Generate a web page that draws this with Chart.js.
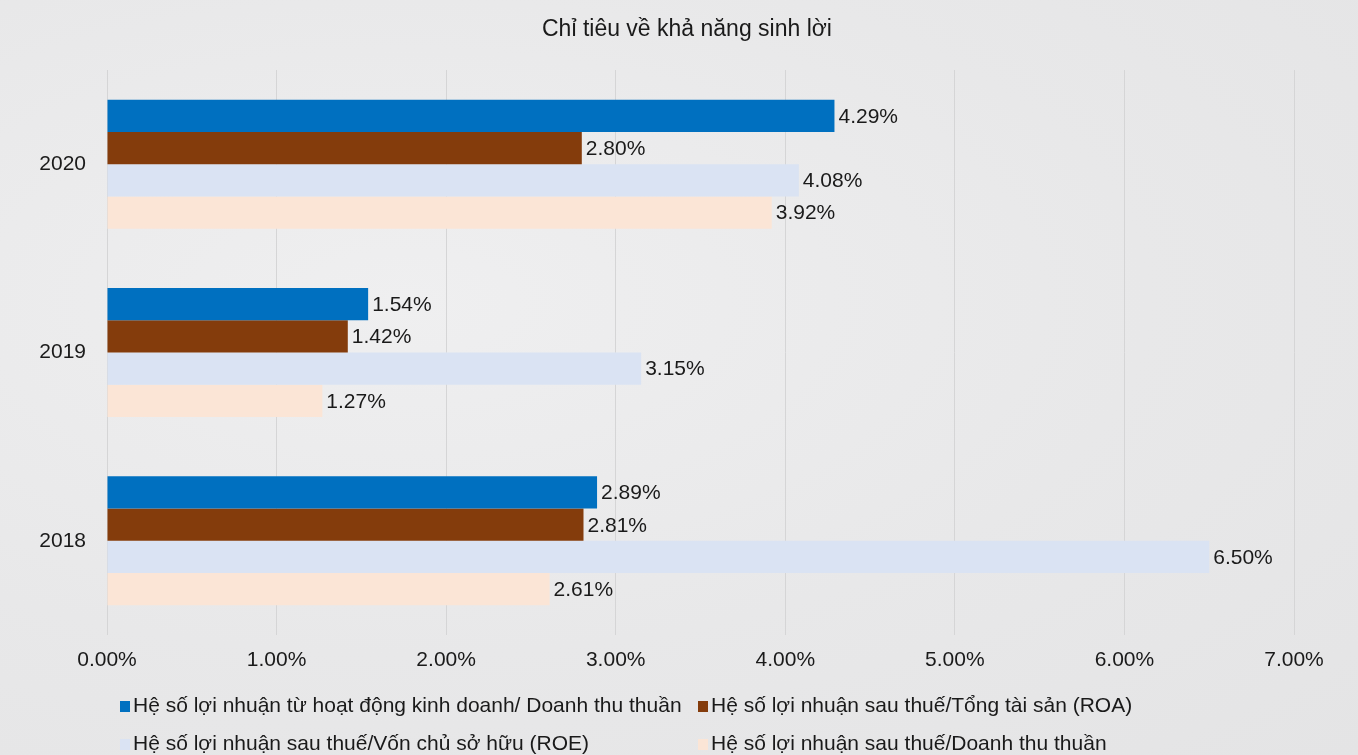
<!DOCTYPE html>
<html>
<head>
<meta charset="utf-8">
<script src="https://cdn.jsdelivr.net/npm/chart.js@4"></script>
<style>
  html, body { margin:0; padding:0; width:1358px; height:755px; overflow:hidden; }
  body { background: radial-gradient(ellipse at 30% 40%, #efeff0 0%, #e8e8e9 55%, #e4e4e5 100%); font-family: "Liberation Sans", Arial, sans-serif; }
  #wrap { position:absolute; left:0; top:0; width:1358px; height:755px; }
  #title { position:absolute; left:387px; width:600px; top:14px; text-align:center; font-size:23px; line-height:28px; color:#1a1a1a; white-space:nowrap; }
  #legend { position:absolute; left:0; top:0; width:1358px; height:755px; pointer-events:none; }
  .li { position:absolute; font-size:21px; color:#1a1a1a; white-space:nowrap; line-height:24px; }
  .li .sw { display:inline-block; width:10px; height:11px; margin-right:3px; vertical-align:0px; }
</style>
</head>
<body>
<div id="wrap"><canvas id="c" width="1358" height="755"></canvas></div>
<div id="title"></div>
<div id="legend"></div>
<script>
const categories = ['2020', '2019', '2018'];
const seriesNames = [
  'Hệ số lợi nhuận từ hoạt động kinh doanh/ Doanh thu thuần',
  'Hệ số lợi nhuận sau thuế/Tổng tài sản (ROA)',
  'Hệ số lợi nhuận sau thuế/Vốn chủ sở hữu (ROE)',
  'Hệ số lợi nhuận sau thuế/Doanh thu thuần'
];
const operatingMargin = [4.29, 1.54, 2.89];
const roa = [2.80, 1.42, 2.81];
const roe = [4.08, 3.15, 6.50];
const netMargin = [3.92, 1.27, 2.61];
const seriesColors = ['#0070C0', '#843C0C', '#DAE3F3', '#FBE5D6'];
const xTicks = [0, 1, 2, 3, 4, 5, 6, 7];
const title = 'Chỉ tiêu về khả năng sinh lời';

const seriesValues = [operatingMargin, roa, roe, netMargin];
const FONT = '"Liberation Sans", Arial, sans-serif';

document.getElementById('title').textContent = title;

const labelPlugin = {
  id: 'valueLabels',
  afterDatasetsDraw(chart) {
    const ctx = chart.ctx;
    ctx.save();
    ctx.font = '21px ' + FONT;
    ctx.fillStyle = '#1a1a1a';
    ctx.textAlign = 'left';
    ctx.textBaseline = 'middle';
    chart.data.datasets.forEach((ds, i) => {
      chart.getDatasetMeta(i).data.forEach((bar, j) => {
        ctx.fillText(ds.data[j].toFixed(2) + '%', bar.x + 4, bar.y + 1);
      });
    });
    ctx.restore();
  }
};

new Chart(document.getElementById('c'), {
  type: 'bar',
  data: {
    labels: categories,
    datasets: seriesValues.map((vals, i) => ({
      label: seriesNames[i],
      data: vals,
      backgroundColor: seriesColors[i],
      borderWidth: 0,
      barPercentage: 1.0,
      categoryPercentage: 0.685
    }))
  },
  options: {
    indexAxis: 'y',
    responsive: false,
    animation: false,
    layout: { padding: { left: 0, right: 64, top: 70, bottom: 0 } },
    plugins: {
      legend: { display: false },
      tooltip: { enabled: false },
      title: { display: false }
    },
    scales: {
      x: {
        min: 0, max: 7,
        afterBuildTicks(scale) { scale.ticks = xTicks.map(v => ({ value: v })); },
        afterFit(scale) { scale.height = 120; },
        grid: { color: '#d5d5d6', drawTicks: false, lineWidth: 1 },
        border: { display: false },
        ticks: {
          padding: 13,
          color: '#1a1a1a',
          font: { family: FONT, size: 21 },
          callback: v => Number(v).toFixed(2) + '%'
        }
      },
      y: {
        afterFit(scale) { scale.width = 107; },
        grid: { display: false, drawTicks: false },
        border: { display: false },
        ticks: {
          padding: 21,
          color: '#1a1a1a',
          font: { family: FONT, size: 21 }
        }
      }
    }
  },
  plugins: [labelPlugin]
});

// HTML legend in two aligned columns
const legendPos = [[120, 693], [698, 693], [120, 731], [698, 731]];
const lg = document.getElementById('legend');
seriesNames.forEach((name, i) => {
  const d = document.createElement('div');
  d.className = 'li';
  d.style.left = legendPos[i][0] + 'px';
  d.style.top = legendPos[i][1] + 'px';
  const sw = document.createElement('span');
  sw.className = 'sw';
  sw.style.background = seriesColors[i];
  d.appendChild(sw);
  d.appendChild(document.createTextNode(name));
  lg.appendChild(d);
});
</script>
</body>
</html>
